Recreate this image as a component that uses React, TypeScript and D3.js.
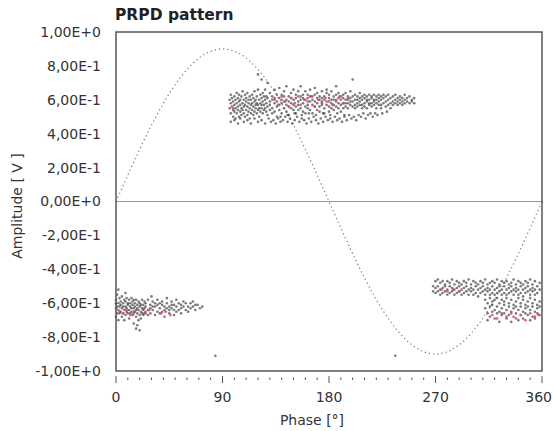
import React from "react";
import * as d3 from "d3";

// ---- data ----
const xTicksMajor = [0, 90, 180, 270, 360];
const yTicks = [1, 0.8, 0.6, 0.4, 0.2, 0, -0.2, -0.4, -0.6, -0.8, -1];
const yTickLabels = ["1,00E+0", "8,00E-1", "6,00E-1", "4,00E-1", "2,00E-1", "0,00E+0", "-2,00E-1", "-4,00E-1", "-6,00E-1", "-8,00E-1", "-1,00E+0"];

// reference sine (every 10°)
const refPhase = [0,10,20,30,40,50,60,70,80,90,100,110,120,130,140,150,160,170,180,190,200,210,220,230,240,250,260,270,280,290,300,310,320,330,340,350,360];
const refAmp = [0,0.156,0.308,0.45,0.579,0.689,0.779,0.846,0.886,0.9,0.886,0.846,0.779,0.689,0.579,0.45,0.308,0.156,0,-0.156,-0.308,-0.45,-0.579,-0.689,-0.779,-0.846,-0.886,-0.9,-0.886,-0.846,-0.779,-0.689,-0.579,-0.45,-0.308,-0.156,0];

// clusters: [phase, amp, amp, ...]
const clusterA: number[][] = [
  [96,.55,.60],[97,.52,.58,.63],[98,.56,.61],[99,.50,.54,.59],[100,.57,.62,.53],[101,.55,.60,.49],
  [102,.52,.58,.64],[103,.56,.61,.54],[104,.50,.59,.63],[105,.53,.57,.60],[106,.55,.62,.51],[107,.58,.54,.65],
  [108,.52,.60,.56],[109,.57,.63,.50],[110,.54,.59,.61],[111,.51,.56,.64],[112,.58,.53,.60],[113,.55,.62,.49],
  [114,.60,.52,.57],[115,.54,.63,.58],[116,.56,.51,.61],[117,.59,.65,.53],[118,.55,.60,.57],[119,.52,.62,.58],
  [120,.57,.54,.66,.75],[121,.60,.55,.50],[122,.58,.63,.53],[123,.55,.61,.57,.72],[124,.52,.59,.64],[125,.57,.62,.54],
  [126,.60,.55,.66],[127,.53,.58,.62],[128,.56,.61,.51,.70],[130,.59,.54,.64,.57],[132,.55,.62,.60,.52],
  [134,.58,.66,.53,.61],[136,.56,.63,.59,.50],[138,.61,.54,.67,.57],[140,.58,.63,.52,.60],[142,.55,.65,.59,.62],
  [144,.60,.53,.57,.68],[146,.62,.56,.59,.51],[148,.58,.64,.55,.61],[150,.54,.60,.66,.57],[152,.61,.56,.63,.52],
  [154,.57,.65,.59,.54],[156,.62,.55,.60,.68],[158,.58,.63,.53,.61],[160,.56,.60,.65,.52],[162,.61,.57,.63,.55],
  [164,.59,.54,.66,.62],[166,.57,.62,.52,.60],[168,.63,.56,.59,.67],[170,.58,.61,.54,.64],[172,.60,.56,.62,.53],
  [174,.57,.65,.59,.61],[176,.62,.55,.60,.52],[178,.59,.64,.57,.66],[180,.56,.61,.53,.63],[182,.60,.58,.65,.55],
  [184,.62,.57,.54,.60],[186,.59,.63,.56,.68],[188,.61,.55,.58,.64],[190,.57,.62,.60,.53],[192,.63,.58,.55,.61],
  [194,.60,.56,.64,.58],[196,.58,.62,.55,.60],[198,.61,.57,.65,.59],[200,.56,.62,.59,.72],[202,.60,.57,.63,.55],
  [204,.62,.58,.56,.60],[206,.59,.64,.57,.61],[208,.57,.62,.55,.60],[210,.61,.58,.63,.56],[212,.59,.62,.55,.60],
  [214,.63,.57,.60,.58],[216,.58,.61,.56,.62],[218,.60,.57,.63,.59],[220,.62,.58,.55,.60],[222,.59,.61,.57,.63],
  [224,.57,.62,.60,.55],[226,.61,.58,.63],[228,.59,.56,.62],[230,.60,.63,.57],[232,.58,.61,.55],[234,.62,.59,.57],
  [236,.60,.58,.63],[238,.57,.61,.59],[240,.62,.58,.60],[242,.59,.61,.57],[244,.60,.63,.58],[246,.61,.59],
  [248,.58,.62],[250,.60,.59],[252,.61,.58]
];
// lower / outer fringe of the upper cluster
const clusterAEdge: number[][] = [
  [97,.47],[100,.48],[103,.46],[105,.49],[108,.47],[111,.48],[114,.46],[117,.49],[120,.47],[123,.48],
  [126,.46],[129,.49],[131,.47],[133,.48],[135,.46],[137,.49],[139,.47],[141,.48],[143,.50],[145,.47],
  [147,.49],[149,.46],[151,.48],[153,.50],[155,.47],[157,.49],[159,.48],[161,.46],[163,.49],[165,.47],
  [167,.50],[169,.48],[171,.46],[173,.49],[175,.47],[177,.50],[179,.48],[181,.49],[183,.47],[185,.50],
  [187,.48],[189,.49],[191,.47],[193,.50],[195,.48],[197,.51],[199,.49],[201,.50],[203,.48],[205,.51],
  [207,.50],[209,.52],[211,.49],[213,.51],[215,.52],[217,.50],[219,.52],[221,.51],[225,.52],[229,.53],
  [139,.50],[145,.51],[151,.52],[157,.51],[163,.52],[169,.51],[175,.52],[181,.51],[187,.52],[193,.51]
];
const clusterB: number[][] = [
  [0,-.58,-.63,-.68,-.60],[1,-.55,-.66,-.62],[2,-.60,-.64,-.70,-.52],[3,-.57,-.62,-.66],[4,-.61,-.65,-.59],
  [5,-.56,-.63,-.68],[6,-.60,-.66,-.62],[7,-.58,-.64,-.70],[8,-.62,-.59,-.67,-.54],[9,-.57,-.63,-.65],
  [10,-.60,-.66,-.61],[11,-.58,-.64,-.69],[12,-.62,-.60,-.66],[13,-.57,-.65,-.63],[14,-.61,-.67,-.59],
  [15,-.63,-.58,-.66,-.72],[16,-.60,-.65,-.62],[17,-.64,-.58,-.68,-.75],[18,-.61,-.66,-.63,-.73],[19,-.59,-.64,-.70],
  [20,-.62,-.67,-.60,-.76],[21,-.65,-.61,-.69],[22,-.58,-.63,-.66],[23,-.61,-.67,-.64],[24,-.63,-.59,-.66],
  [25,-.60,-.65,-.62],[27,-.64,-.58,-.67],[29,-.61,-.66,-.63],[30,-.56],[31,-.59,-.64,-.62],[33,-.62,-.67,-.60],
  [35,-.65,-.61,-.58],[37,-.63,-.60,-.66],[39,-.61,-.65,-.59],[41,-.64,-.62,-.68],[43,-.60,-.63,-.57],
  [45,-.62,-.66,-.64],[47,-.59,-.63,-.61],[49,-.64,-.61,-.67],[51,-.62,-.58,-.65],[53,-.60,-.64],
  [55,-.63,-.61,-.66],[57,-.59,-.62],[59,-.64,-.60],[61,-.62,-.65],[63,-.60,-.63],[65,-.62,-.59],
  [67,-.64,-.61],[69,-.61],[71,-.63],[73,-.62]
];
const clusterC: number[][] = [
  [268,-.50,-.53],[270,-.47,-.51,-.54],
  [272,-.50,-.53,-.46],[274,-.48,-.52,-.55],[276,-.51,-.47,-.54],[278,-.49,-.53,-.50],[280,-.52,-.47,-.55],
  [282,-.50,-.54,-.48],[284,-.46,-.51,-.53],[286,-.49,-.55,-.52],[288,-.51,-.47,-.54],[290,-.48,-.53,-.50],
  [292,-.52,-.49,-.55],[294,-.47,-.51,-.54],[296,-.50,-.53,-.48],[298,-.52,-.46,-.55],[300,-.49,-.53,-.51],
  [302,-.47,-.52,-.55],[304,-.50,-.54,-.48],[306,-.52,-.49,-.56],[308,-.47,-.51,-.54],[310,-.50,-.53,-.48],
  [312,-.46,-.52,-.55,-.58,-.63],[314,-.49,-.53,-.51,-.60,-.66,-.70],[316,-.52,-.48,-.55,-.57,-.62,-.68],
  [318,-.50,-.54,-.47,-.61,-.65,-.59],[320,-.48,-.52,-.55,-.58,-.64,-.69],[322,-.51,-.46,-.54,-.62,-.57,-.66],
  [324,-.49,-.53,-.50,-.60,-.65,-.71],[326,-.52,-.47,-.55,-.58,-.63,-.67],[328,-.50,-.54,-.48,-.61,-.66,-.59],
  [330,-.47,-.52,-.55,-.57,-.64,-.69],[332,-.51,-.49,-.54,-.62,-.60,-.67],[334,-.48,-.53,-.50,-.58,-.65,-.71],
  [336,-.52,-.46,-.55,-.61,-.63,-.68],[338,-.49,-.53,-.51,-.59,-.66,-.62],[340,-.47,-.52,-.55,-.57,-.64,-.70],
  [342,-.50,-.54,-.48,-.62,-.60,-.67],[344,-.52,-.49,-.56,-.58,-.65,-.69],[346,-.47,-.51,-.54,-.61,-.63,-.66],
  [348,-.50,-.53,-.48,-.59,-.67,-.62],[350,-.52,-.46,-.55,-.57,-.64,-.70],[352,-.49,-.53,-.51,-.62,-.60,-.68],
  [354,-.47,-.52,-.55,-.58,-.65,-.69],[356,-.50,-.54,-.61,-.63,-.66],[358,-.52,-.48,-.59,-.67,-.62]
];
const outliers: number[][] = [[84,-.91],[236,-.91]];
// highlighted (red) pulses
const hotA: number[][] = [[99,.55],[134,.60],[137,.57],[140,.62],[143,.59],[146,.56],[148,.61],[151,.58],[154,.62],[156,.57],[159,.60],[162,.59],[165,.62],[168,.56],[171,.60],[174,.58],[177,.61],[180,.59],[183,.57],[186,.60],[189,.62],[192,.58],[196,.61]];
const hotB: number[][] = [[3,-.65],[6,-.66],[9,-.64],[12,-.67],[15,-.65],[25,-.66],[28,-.64],[38,-.66],[42,-.65],[46,-.67]];
const hotC: number[][] = [[275,-.52],[280,-.53],[285,-.52],[290,-.53],[318,-.67],[322,-.69],[326,-.66],[330,-.68],[334,-.66],[338,-.69],[342,-.67],[346,-.70],[350,-.66],[354,-.68],[357,-.67]];

const W = 553, H = 431;
const FONT = "'DejaVu Sans', Verdana, sans-serif";

function expand(rows: number[][]): [number, number][] {
  const out: [number, number][] = [];
  rows.forEach(r => { for (let i = 1; i < r.length; i++) out.push([r[0], r[i]]); });
  return out;
}

export default function App() {
  const x = d3.scaleLinear().domain([0, 360]).range([116, 542]);
  const y = d3.scaleLinear().domain([-1, 1]).range([371, 32]);
  const grey = [...expand(clusterA), ...expand(clusterAEdge), ...expand(clusterB), ...expand(clusterC), ...expand(outliers)];
  const hot = [...expand(hotA), ...expand(hotB), ...expand(hotC)];
  const line = d3.line<number>().x((_, i) => x(refPhase[i])).y(d => y(d)).curve(d3.curveNatural);
  const minor = d3.range(0, 361, 10);

  return (
    <svg width={W} height={H} style={{ position: "absolute", left: 0, top: 0, background: "#fff" }} fontFamily={FONT}>
      <text x={115} y={20} fontSize={15.5} fontWeight="bold" fill="#222">PRPD pattern</text>
      {/* zero line */}
      <line x1={x(0)} x2={x(360)} y1={y(0)} y2={y(0)} stroke="#999" strokeWidth={1} />
      {/* reference sine */}
      <path d={line(refAmp) || ""} fill="none" stroke="#777" strokeWidth={1.2} strokeDasharray="1.2 3" />
      {/* points */}
      {grey.map((p, i) => (
        <circle key={"g" + i} cx={x(p[0])} cy={y(p[1])} r={1.3} fill="#333" opacity={0.65} />
      ))}
      {hot.map((p, i) => (
        <circle key={"h" + i} cx={x(p[0])} cy={y(p[1])} r={1.4} fill="#e0456e" opacity={0.85} />
      ))}
      {/* frame */}
      <rect x={x(0)} y={y(1)} width={x(360) - x(0)} height={y(-1) - y(1)} fill="none" stroke="#555" strokeWidth={1.5} />
      {/* y labels */}
      {yTicks.map((t, i) => (
        <text key={"y" + i} x={101} y={y(t)} dy="0.35em" textAnchor="end" fontSize={14} fill="#333">{yTickLabels[i]}</text>
      ))}
      {/* x ticks */}
      {minor.map(t => (
        <line key={"m" + t} x1={x(t)} x2={x(t)} y1={xTicksMajor.includes(t) ? 376 : 377.5} y2={xTicksMajor.includes(t) ? 383 : 380} stroke="#555" strokeWidth={1} />
      ))}
      {xTicksMajor.map(t => (
        <text key={"x" + t} x={t === 360 ? 552 : x(t)} y={402} textAnchor={t === 360 ? "end" : "middle"} fontSize={14} fill="#333">{t}</text>
      ))}
      <text x={312} y={425} textAnchor="middle" fontSize={14} fill="#333">Phase [°]</text>
      <text transform={`translate(22,206) rotate(-90)`} textAnchor="middle" fontSize={14} fill="#333">Amplitude [ V ]</text>
    </svg>
  );
}
